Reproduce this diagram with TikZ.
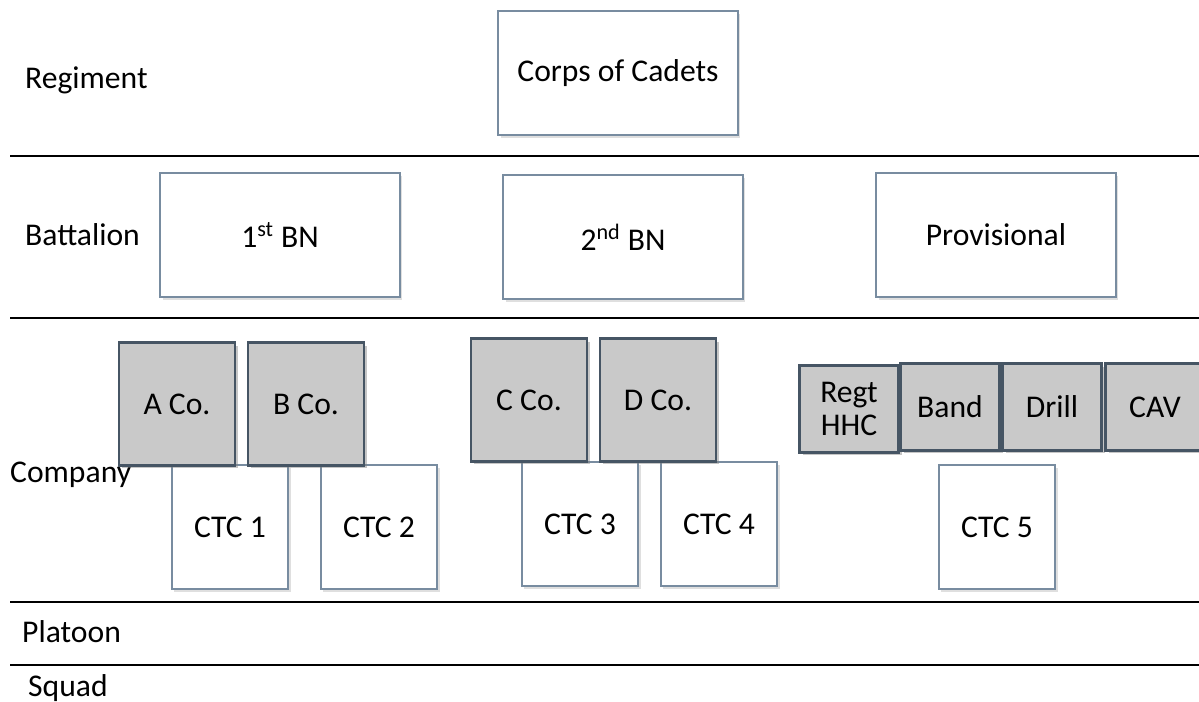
\documentclass[tikz,border=0pt]{standalone}
\usepackage{fontspec}
\setmainfont{Carlito}
\usetikzlibrary{shadows}
\definecolor{boxline}{RGB}{120,140,160}
\definecolor{coline}{RGB}{70,85,100}
\definecolor{cofill}{RGB}{201,201,201}
\begin{document}
\begin{tikzpicture}[x=0.02cm,y=-0.02cm,
  font=\fontsize{18}{21}\selectfont,
  unit node/.style={rectangle,draw=boxline,line width=1.1pt,fill=white,
    minimum width=4.8cm,minimum height=2.48cm,
    drop shadow={opacity=0.25,shadow xshift=0.05cm,shadow yshift=-0.06cm}},
  ctc node/.style={unit node,minimum width=2.33cm,minimum height=2.47cm},
  co node/.style={rectangle,draw=coline,line width=1.3pt,fill=cofill,
    minimum width=2.33cm,minimum height=2.46cm,
    drop shadow={opacity=0.45,shadow xshift=0.06cm,shadow yshift=-0.06cm}},
  prov node/.style={co node,minimum width=1.98cm,minimum height=1.74cm,align=center,
    font=\fontsize{18}{19}\selectfont},
  level/.style={anchor=west},
  sep line/.style={line width=1.2pt}]

  \useasboundingbox (0,0) rectangle (1199,702);

  % level names
  \node[level] (regiment) at (19,80){Regiment};
  \node[level] (battalion) at (19,235){Battalion};
  \node[level] (platoon) at (16,632){Platoon};
  \node[level] (squad) at (22,688){Squad};

  % separator lines
  \coordinate (l1) at (10,156);  \coordinate (r1) at (1199,156);
  \coordinate (l2) at (10,318);  \coordinate (r2) at (1199,318);
  \coordinate (l3) at (10,602);  \coordinate (r3) at (1199,602);
  \coordinate (l4) at (10,665);  \coordinate (r4) at (1199,665);
  \path[sep line] (l1) edge (r1) (l2) edge (r2) (l3) edge (r3) (l4) edge (r4);

  % regiment and battalions
  \node[unit node] (corps) at (618,73){Corps of Cadets};
  \node[unit node] (bn1) at (280,235){1\textsuperscript{st} BN};
  \node[unit node] (bn2) at (623,237){2\textsuperscript{nd} BN};
  \node[unit node] (prov) at (996,235){Provisional};

  % training companies
  \node[ctc node] (ctc1) at (230,527){CTC 1};
  \node[ctc node] (ctc2) at (379,527){CTC 2};
  \node[ctc node] (ctc3) at (580,524){CTC 3};
  \node[ctc node] (ctc4) at (719,524){CTC 4};
  \node[ctc node] (ctc5) at (997,527){CTC 5};

  \node[level] (company) at (4,475){Company};

  % companies
  \node[co node] (aco) at (177,404){A Co.};
  \node[co node] (bco) at (306,404){B Co.};
  \node[co node] (cco) at (529,400){C Co.};
  \node[co node] (dco) at (658,400){D Co.};
  \node[prov node] (hhc) at (849,409){Regt\\HHC};
  \node[prov node] (band) at (950,407){Band};
  \node[prov node] (drill) at (1052,407){Drill};
  \node[prov node] (cav) at (1155,407){CAV};
\end{tikzpicture}
\end{document}
